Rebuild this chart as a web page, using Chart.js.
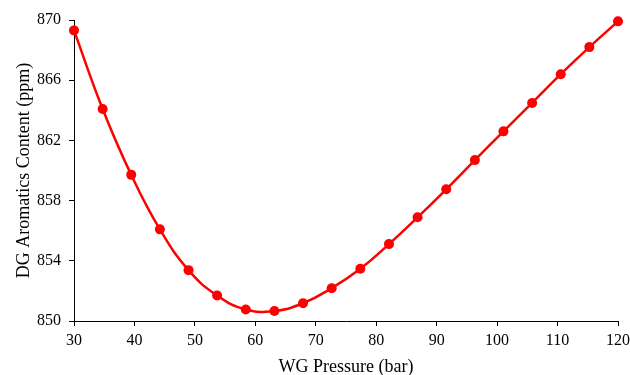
<!DOCTYPE html>
<html>
<head>
<meta charset="utf-8">
<script src="https://cdn.jsdelivr.net/npm/chart.js@4"></script>
<style>
  html, body { margin: 0; padding: 0; background: #fff; }
  #wrap { width: 630px; height: 375px; }
</style>
</head>
<body>
<div id="wrap"><canvas id="aromChart" width="630" height="375"></canvas></div>
<script>
// WG pressure sweep, 20 runs from 30 to 120 bar
const pressures = [30, 34.74, 39.47, 44.21, 48.95, 53.68, 58.42, 63.16, 67.89, 72.63,
                   77.37, 82.11, 86.84, 91.58, 96.32, 101.05, 105.79, 110.53, 115.26, 120];
const aromatics = [869.31, 864.09, 859.71, 856.09, 853.38, 851.69, 850.76, 850.67, 851.18, 852.18,
                   853.47, 855.11, 856.89, 858.75, 860.69, 862.6, 864.49, 866.4, 868.2, 869.91];
const xTicks = [30, 40, 50, 60, 70, 80, 90, 100, 110, 120];
const yTicks = [850, 854, 858, 862, 866, 870];

const serif = "'Liberation Serif', 'Times New Roman', serif";
const points = pressures.map((p, i) => ({ x: p, y: aromatics[i] }));

const ctx = document.getElementById("aromChart").getContext("2d");
const aromChart = new Chart(ctx, {
    type: "line",
    data: {
        datasets: [
            {
                data: points,
                borderColor: "#ff0000",
                backgroundColor: "#ff0000",
                borderWidth: 2.5,
                pointRadius: 5,
                pointBorderWidth: 0,
                tension: 0.45,
                clip: false,
            },
        ],
    },
    options: {
        responsive: false,
        animation: false,
        layout: { padding: { top: 20, right: 12, left: 0, bottom: 0 } },
        plugins: {
            legend: { display: false },
            tooltip: { enabled: false },
        },
        scales: {
            x: {
                type: "linear",
                min: 30,
                max: 120,
                afterBuildTicks: (axis) => {
                    axis.ticks = xTicks.map((v) => ({ value: v }));
                },
                afterFit: (axis) => {
                    axis.height = 54;
                    axis.paddingLeft = 0;
                    axis.paddingRight = 0;
                },
                grid: { drawOnChartArea: false, tickLength: 5, color: "#000" },
                border: { color: "#000", width: 1 },
                ticks: { color: "#000", padding: 5, font: { family: serif, size: 16 } },
                title: {
                    display: true,
                    text: "WG Pressure (bar)",
                    color: "#000",
                    padding: { top: 0, bottom: -3 },
                    font: { family: serif, size: 18 },
                },
            },
            y: {
                min: 850,
                max: 870,
                afterBuildTicks: (axis) => {
                    axis.ticks = yTicks.map((v) => ({ value: v }));
                },
                afterFit: (axis) => { axis.width = 74; },
                grid: { drawOnChartArea: false, tickLength: 5, color: "#000" },
                border: { color: "#000", width: 1 },
                ticks: { color: "#000", padding: 8, font: { family: serif, size: 16 } },
                title: {
                    display: true,
                    text: "DG Aromatics Content (ppm)",
                    color: "#000",
                    padding: { top: 13, bottom: 0 },
                    font: { family: serif, size: 18 },
                },
            },
        },
    },
});
</script>
</body>
</html>
